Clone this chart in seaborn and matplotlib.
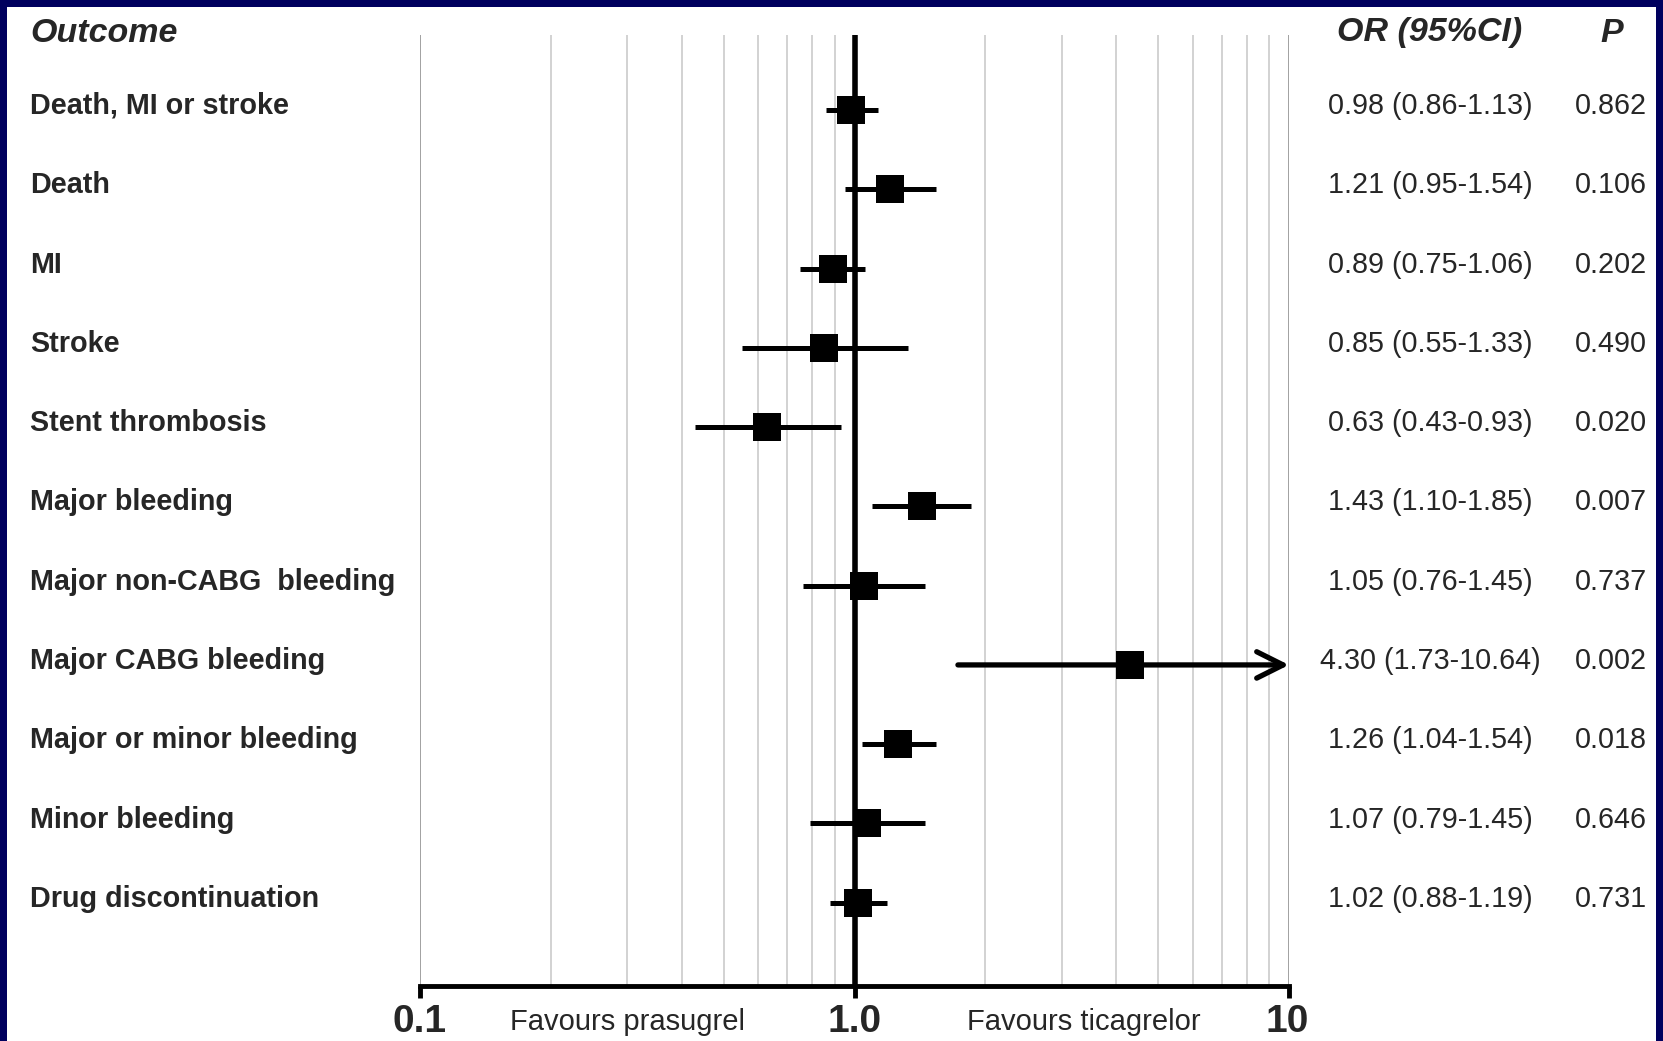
import numpy as np
import pandas as pd
import matplotlib
matplotlib.use("Agg")
import matplotlib.pyplot as plt
import seaborn as sns
from matplotlib.patches import Rectangle

# data
outcomes = ["Death, MI or stroke", "Death", "MI", "Stroke", "Stent thrombosis",
            "Major bleeding", "Major non-CABG  bleeding", "Major CABG bleeding",
            "Major or minor bleeding", "Minor bleeding", "Drug discontinuation"]
odds = [0.98, 1.21, 0.89, 0.85, 0.63, 1.43, 1.05, 4.30, 1.26, 1.07, 1.02]
ci_low = [0.86, 0.95, 0.75, 0.55, 0.43, 1.10, 0.76, 1.73, 1.04, 0.79, 0.88]
ci_high = [1.13, 1.54, 1.06, 1.33, 0.93, 1.85, 1.45, 10.64, 1.54, 1.45, 1.19]
p_values = ["0.862", "0.106", "0.202", "0.490", "0.020", "0.007",
            "0.737", "0.002", "0.018", "0.646", "0.731"]

df = pd.DataFrame({"outcome": outcomes, "OR": odds, "lo": ci_low, "hi": ci_high,
                   "row": np.arange(len(outcomes))})

sns.set_style("white")
plt.rcParams['font.family'] = ['Liberation Sans', 'DejaVu Sans']

W, H = 1663, 1041
fig = plt.figure(figsize=(W / 100, H / 100), dpi=100)
fig.patch.set_facecolor('#00005e')
# white panel inside the navy frame
fig.patches.append(Rectangle((7 / W, 0), (1656 - 7) / W, (H - 7) / H,
                             transform=fig.transFigure, facecolor='white',
                             edgecolor='none', zorder=-5))

x0, x1, ytop, ybot = 420, 1289, 35, 986
ax = fig.add_axes([x0 / W, 1 - ybot / H, (x1 - x0) / W, (ybot - ytop) / H])
ax.set_zorder(2)
ax.set_facecolor('none')
ax.set_xscale('log')
ax.set_xlim(0.1, 10)
ax.set_ylim(11.05, -0.946)

# grid lines
minor = [0.2, 0.3, 0.4, 0.5, 0.6, 0.7, 0.8, 0.9, 2, 3, 4, 5, 6, 7, 8, 9]
for v in minor:
    ax.axvline(v, color='#cfcfcf', lw=1.3, zorder=1)
ax.axvline(0.1, color='#9a9a9a', lw=1.3, zorder=1)
ax.axvline(10, color='#9a9a9a', lw=1.3, zorder=1)
ax.axvline(1.0, color='black', lw=4, zorder=2)

# confidence intervals
capped = df["hi"] > 10
ax.hlines(df.loc[~capped, "row"], df.loc[~capped, "lo"], df.loc[~capped, "hi"],
          color='black', lw=3.6, zorder=3)
for _, r in df[capped].iterrows():
    ax.annotate("", xy=(10, r["row"]), xytext=(r["lo"], r["row"]),
                arrowprops=dict(arrowstyle='->,head_length=1.9,head_width=0.95',
                                color='black', lw=3.8, shrinkA=0, shrinkB=0),
                zorder=3)

sns.scatterplot(data=df, x="OR", y="row", marker='s', s=390, color='black',
                edgecolor='black', linewidth=0, ax=ax, zorder=4, legend=False)

for s in ax.spines.values():
    s.set_visible(False)
ax.set_xticks([])
ax.set_yticks([])
ax.set_xlabel("")
ax.set_ylabel("")
ax.minorticks_off()

# bottom axis
ax.plot([0.1, 10], [11.05, 11.05], color='black', lw=3.5, clip_on=False,
        solid_capstyle='projecting', zorder=5)
for v in [0.1, 1.0, 10]:
    ax.plot([v, v], [11.05, 11.2], color='black', lw=3.5, clip_on=False,
            solid_capstyle='butt', zorder=5)

def fx(px):
    return px / W

def fy(px):
    return 1 - px / H

# text columns
fig.text(fx(30), fy(33), "Outcome", fontsize=24.5, fontweight='bold',
         fontstyle='italic', va='center', ha='left')
fig.text(fx(1430), fy(33), "OR (95%CI)", fontsize=24.5, fontweight='bold',
         fontstyle='italic', va='center', ha='center')
fig.text(fx(1612), fy(33), "P", fontsize=24.5, fontweight='bold',
         fontstyle='italic', va='center', ha='center')

for i, r in df.iterrows():
    ypx = 106 + 79.3 * i
    fig.text(fx(30), fy(ypx), r["outcome"], fontsize=20.7, fontweight='bold',
             va='center', ha='left')
    txt = f"{r['OR']:.2f} ({r['lo']:.2f}-{r['hi']:.2f})"
    fig.text(fx(1430), fy(ypx), txt, fontsize=20.7, va='center', ha='center')
    fig.text(fx(1647), fy(ypx), p_values[i], fontsize=20.7, va='center',
             ha='right')

fig.text(fx(420), fy(1022), "0.1", fontsize=28, fontweight='bold',
         va='center', ha='center')
fig.text(fx(855), fy(1022), "1.0", fontsize=28, fontweight='bold',
         va='center', ha='center')
fig.text(fx(1287), fy(1022), "10", fontsize=28, fontweight='bold',
         va='center', ha='center')
fig.text(fx(627), fy(1022), "Favours prasugrel", fontsize=21,
         va='center', ha='center')
fig.text(fx(1084), fy(1022), "Favours ticagrelor", fontsize=21,
         va='center', ha='center')

fig.savefig("out.png", dpi=100, facecolor=fig.get_facecolor())
